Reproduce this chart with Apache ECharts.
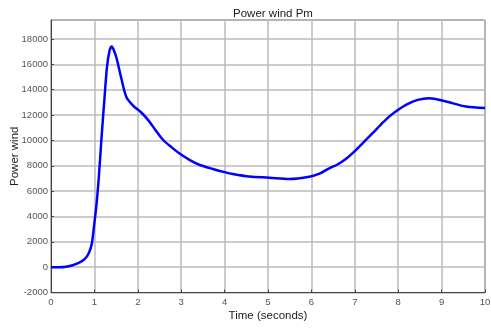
<!DOCTYPE html>
<html>
<head>
<meta charset="utf-8">
<script src="https://cdn.jsdelivr.net/npm/echarts@6/dist/echarts.min.js"></script>
<style>html,body{margin:0;padding:0;background:#fff;}#c{width:491px;height:329px;}</style>
</head>
<body>
<div id="c"></div>
<script>
var timeSec = [0, 0.2, 0.35, 0.5, 0.65, 0.78, 0.87, 0.94, 1.0, 1.05, 1.1, 1.17, 1.23, 1.29, 1.35, 1.40, 1.45, 1.51, 1.62, 1.74, 1.89, 2.08, 2.24, 2.4, 2.58, 2.78, 2.97, 3.2, 3.43, 3.73, 4.0, 4.19, 4.57, 5.03, 5.49, 5.95, 6.2, 6.41, 6.6, 6.8, 7.03, 7.2, 7.41, 7.6, 7.79, 8.0, 8.2, 8.45, 8.71, 9.1, 9.56, 10];
var powerWind = [0, 0, 40, 150, 350, 660, 1100, 1850, 3500, 5000, 7000, 10500, 13200, 15800, 17100, 17400, 17100, 16500, 14900, 13400, 12750, 12200, 11600, 10850, 10050, 9450, 8950, 8450, 8060, 7750, 7500, 7350, 7150, 7060, 6960, 7140, 7400, 7800, 8100, 8550, 9250, 9850, 10570, 11250, 11880, 12420, 12850, 13200, 13330, 13070, 12670, 12550];
var titleText = 'Power wind Pm';
var xName = 'Time (seconds)';
var yName = 'Power wind';

var data = timeSec.map(function (t, i) { return [t, powerWind[i]]; });
var chart = echarts.init(document.getElementById('c'));
var fontFam = '"Liberation Sans", Arial, sans-serif';
chart.setOption({
  animation: false,
  title: { text: titleText, left: 268, textAlign: 'center', top: 3,
    textStyle: { fontFamily: fontFam, fontSize: 11.5, fontWeight: 'normal', color: '#222' } },
  grid: { left: 51, right: 6, top: 20, bottom: 36.5, show: true, borderColor: '#444', borderWidth: 1,
    containLabel: false, outerBoundsMode: 'none' },
  xAxis: {
    type: 'value', min: 0, max: 10, interval: 1,
    name: xName, nameLocation: 'middle', nameGap: 17, nameMoveOverlap: false,
    nameTextStyle: { fontFamily: fontFam, fontSize: 11.5, color: '#222' },
    axisLine: { onZero: false, lineStyle: { color: '#444' } },
    axisTick: { inside: true, length: 3, lineStyle: { color: '#444' } },
    axisLabel: { fontFamily: fontFam, fontSize: 9.5, color: '#555', margin: 5 },
    splitLine: { show: true, lineStyle: { color: '#bbb', width: 1.5 } }
  },
  yAxis: {
    type: 'value', min: -2000, max: 19500, interval: 2000,
    name: yName, nameLocation: 'middle', nameGap: 30, nameMoveOverlap: false,
    nameTextStyle: { fontFamily: fontFam, fontSize: 11.5, color: '#222' },
    axisLine: { show: true, onZero: false, lineStyle: { color: '#444' } },
    axisTick: { show: true, inside: true, length: 3, lineStyle: { color: '#444' } },
    axisLabel: { fontFamily: fontFam, fontSize: 9.5, color: '#555', margin: 3, showMaxLabel: false,
      formatter: function (v) { return String(v); } },
    splitLine: { show: true, lineStyle: { color: '#bbb', width: 1.5 } }
  },
  series: [{
    type: 'line', data: data, smooth: 0.3, showSymbol: false,
    lineStyle: { color: '#0000ff', width: 2.5 }
  }]
});
</script>
</body>
</html>
